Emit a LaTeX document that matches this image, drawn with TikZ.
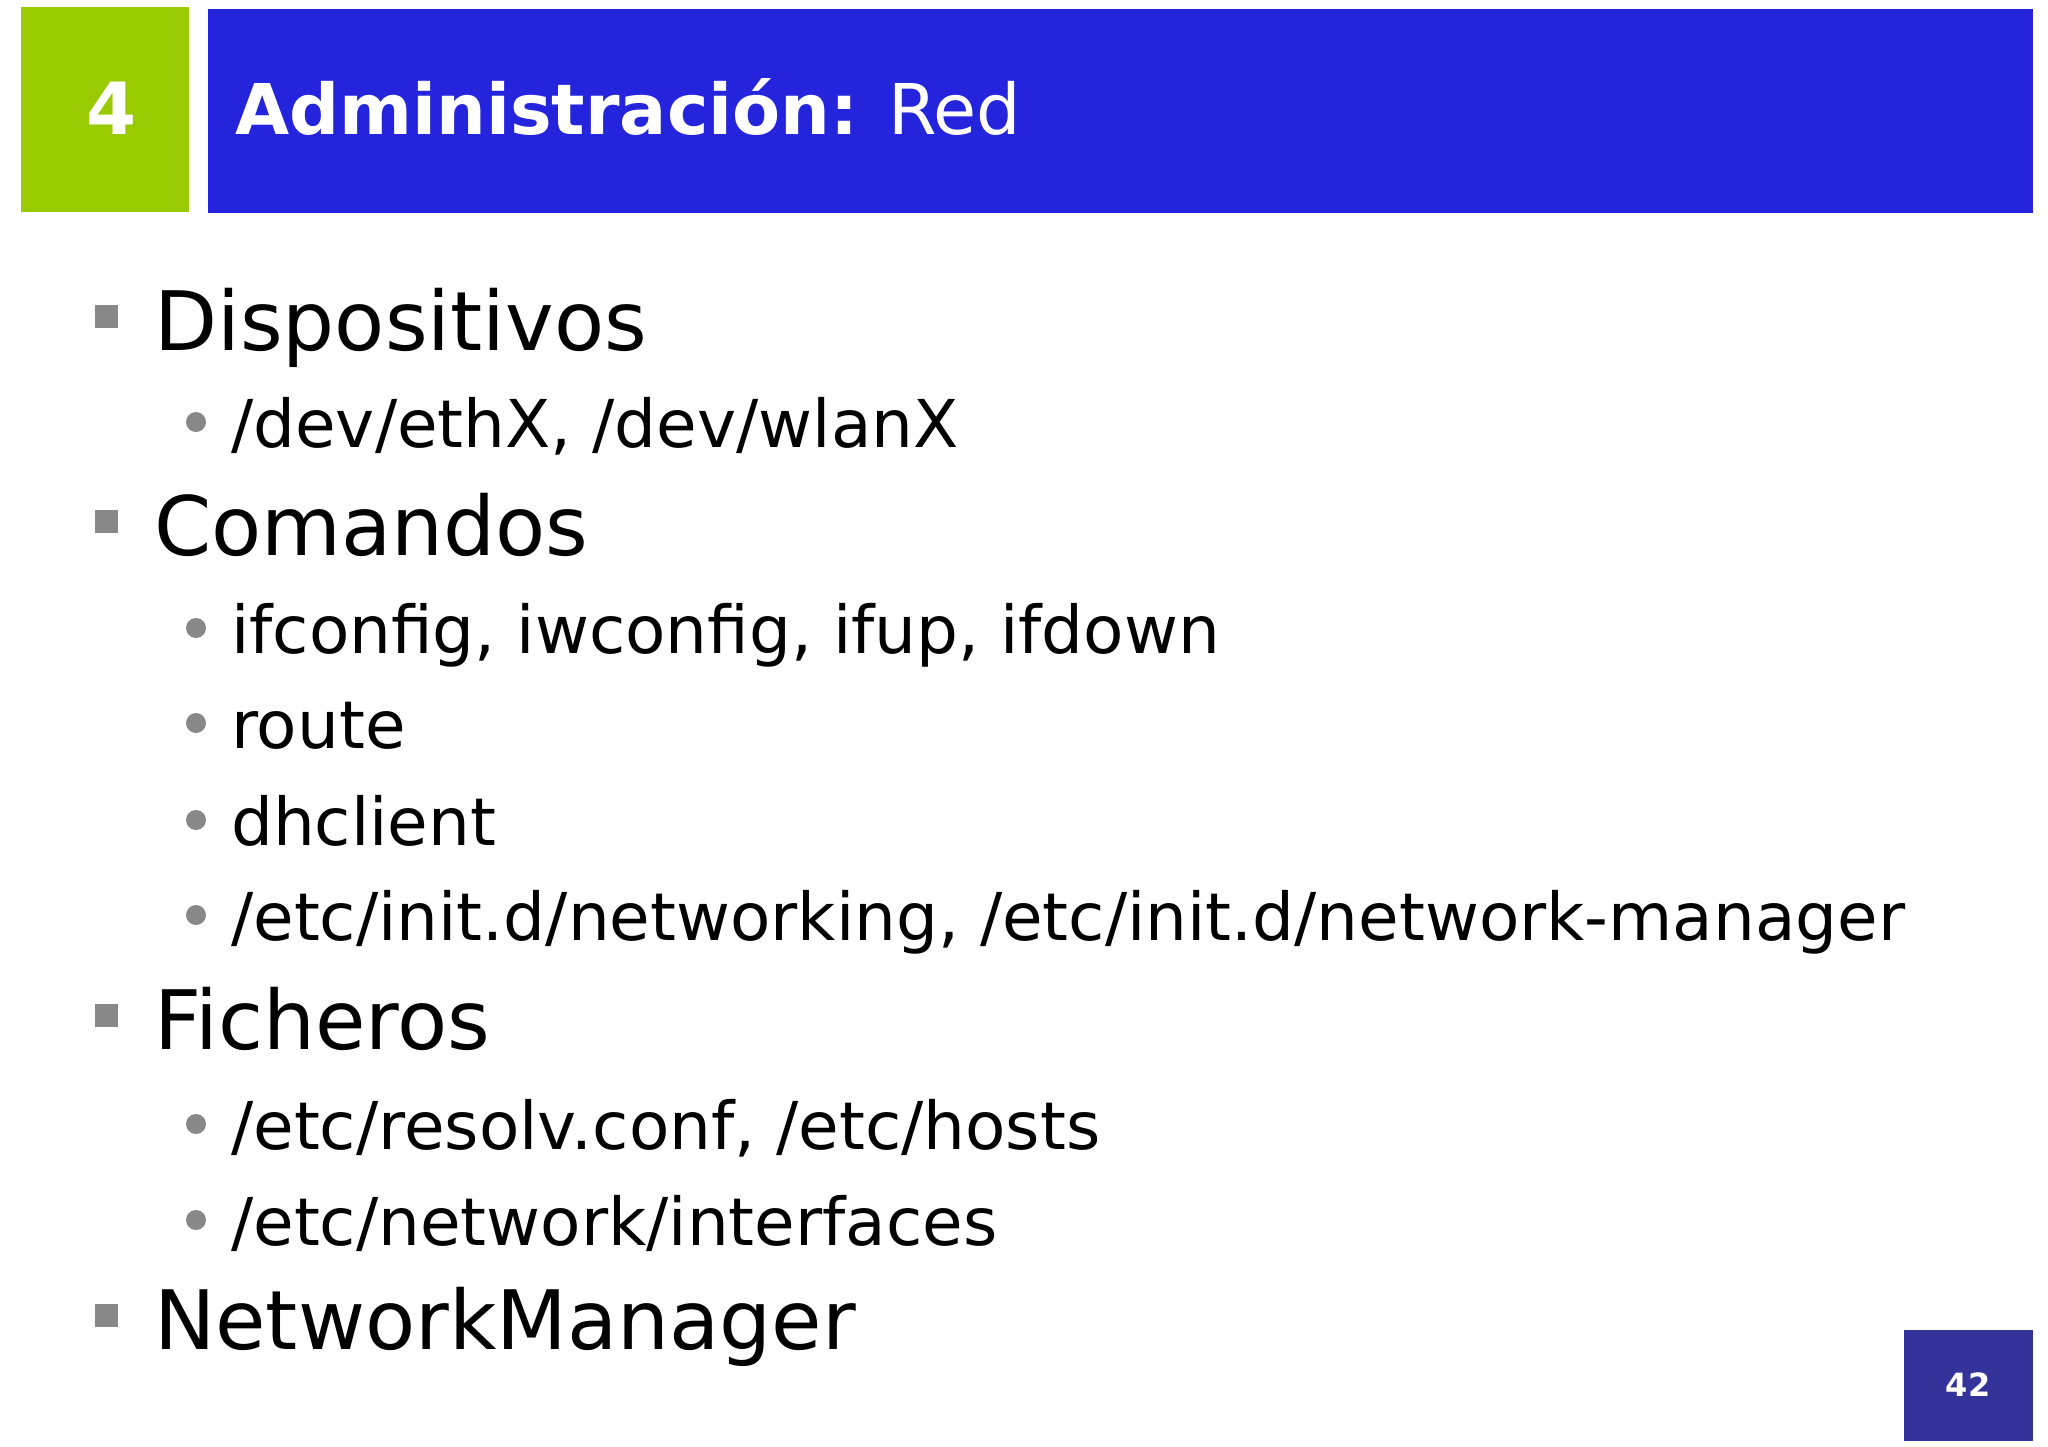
\documentclass[tikz,border=0pt]{standalone}
\usepackage{fontspec}
\setmainfont{DejaVu Sans}
\definecolor{hblue}{HTML}{2424DD}
\definecolor{hgreen}{HTML}{99CC00}
\definecolor{pblue}{HTML}{333399}
\definecolor{bgray}{HTML}{888888}
\begin{document}
\begin{tikzpicture}[x=1pt,y=-1pt,
  l1/.style={anchor=base west,inner sep=0,font=\fontsize{82}{90}\selectfont},
  l2/.style={anchor=base west,inner sep=0,font=\fontsize{66}{74}\selectfont}]
\useasboundingbox (0,0) rectangle (2048,1447);
\fill[white] (0,0) rectangle (2048,1447);
\fill[hgreen] (21,7) rectangle (189,212);
\fill[hblue] (208,9) rectangle (2033,213);
\node[text=white,font=\fontsize{72}{80}\selectfont\bfseries] (num) at (112,108) {4};
\node[anchor=base west,inner sep=0,text=white,font=\fontsize{70}{80}\selectfont] (title) at (235,135) {\textbf{Administración:} Red};
\foreach \y/\t in {350/Dispositivos/interfaces,555/Comandos,1049/Ficheros,1349/NetworkManager}{
  \fill[bgray] (95,\y-45) rectangle (118,\y-22);
  \node[l1] at (154,\y) {\t};
}
\foreach \y/\t in {447/{/dev/ethX, /dev/wlanX},653/{ifconfig, iwconfig, ifup, ifdown},748/route,845/dhclient,940/{/etc/init.d/networking, /etc/init.d/network-manager},1149/{/etc/resolv.conf, /etc/hosts},1245/{/etc/network/interfaces}}{
  \fill[bgray] (196,\y-25) circle (10);
  \node[l2] at (231,\y) {\t};
}
\fill[pblue] (1904,1330) rectangle (2033,1441);
\node[text=white,font=\fontsize{32}{36}\selectfont\bfseries] (pg) at (1968,1385) {42};
\end{tikzpicture}
\end{document}
